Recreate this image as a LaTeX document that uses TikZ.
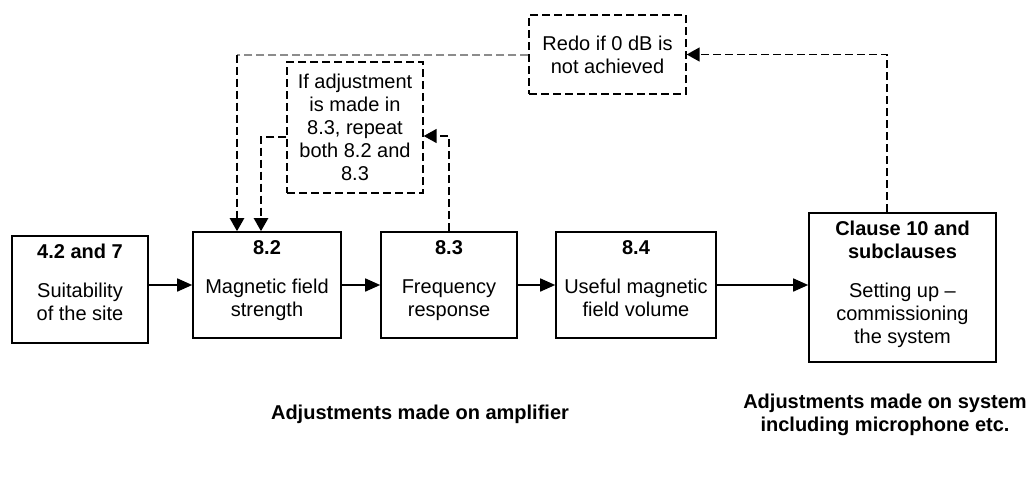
\documentclass[tikz,border=0pt]{standalone}
\usepackage{fontspec}
\setmainfont{Liberation Sans}
\usepackage{xcolor}
\usetikzlibrary{positioning,arrows.meta}
\definecolor{dashgrey}{HTML}{8C8C8C}

\begin{document}
\begin{tikzpicture}[x=1pt,y=-1pt,
    blk/.style={draw, line width=1.6pt, inner sep=0pt},
    txt/.style={inner sep=0pt, align=center, font=\fontsize{20}{23}\selectfont},
    dashbox/.style={draw, line width=1.4pt, dash pattern=on 8pt off 4pt, inner sep=0pt,
        align=center, font=\fontsize{20}{23}\selectfont},
    note/.style={inner sep=0pt, align=center, font=\fontsize{20}{23}\selectfont\bfseries},
    flow/.style={line width=1.6pt, -{Triangle[length=15pt,width=13pt]}},
    back/.style={line width=2.4pt, dash pattern=on 8pt off 4pt, -{Triangle[length=13pt,width=14pt]}}]
    \useasboundingbox (0,0) rectangle (1034,480);

    % Blocks
    \node[blk, minimum width=136, minimum height=107] (a) at (80,289.5) {};
    \node[blk, minimum width=148, minimum height=106] (b) at (267,285) {};
    \node[blk, minimum width=136, minimum height=106] (c) at (449,285) {};
    \node[blk, minimum width=160, minimum height=106] (d) at (636,285) {};
    \node[blk, minimum width=187, minimum height=149] (e) at (902.5,287.5) {};

    % Block texts
    \node[txt, below=9pt of a.north] (a-t) {\textbf{4.2 and 7}\\[16pt]Suitability\\of the site};
    \node[txt, below=9pt of b.north] (b-t) {\textbf{8.2}\\[16pt]Magnetic field\\strength};
    \node[txt, below=9pt of c.north] (c-t) {\textbf{8.3}\\[16pt]Frequency\\response};
    \node[txt, below=9pt of d.north] (d-t) {\textbf{8.4}\\[16pt]Useful magnetic\\field volume};
    \node[txt, below=9pt of e.north] (e-t) {\textbf{Clause 10 and}\\\textbf{subclauses}\\[16pt]Setting up –\\commissioning\\the system};

    % Notes in dashed boxes
    \node[dashbox, minimum width=157, minimum height=79] (redo) at (607.5,54.5) {Redo if 0 dB is\\not achieved};
    \node[dashbox, minimum width=136, minimum height=131] (ifb) at (355,127.5) {If adjustment\\is made in\\8.3, repeat\\both 8.2 and\\8.3};
    \coordinate (turn) at (237,54.5);

    % Main flow
    \draw[flow] (a.east |- b.west) -- (b.west);
    \draw[flow] (b.east) -- (c.west);
    \draw[flow] (c.east) -- (d.west);
    \draw[flow] (d.east) -- (d.east -| e.west);

    % Feedback
    \draw[back, line width=1.6pt] ([xshift=-15.5pt]e.north) |- (redo.east);
    \draw[dashgrey, line width=2pt, dash pattern=on 8pt off 4pt] (redo.west) -- (turn);
    \draw[back] (turn) -- (turn |- b.north);
    \draw[back] ([yshift=-9.5pt]ifb.west) -| ([xshift=-6pt]b.north);
    \draw[back, line width=1.6pt] (c.north) |- ([yshift=-8.5pt]ifb.east);

    % Labels
    \node[note, anchor=base] (amp) at (420,419) {Adjustments made on amplifier};
    \node[note, anchor=north] (sys) at (885,393.5) {Adjustments made on system\\including microphone etc.};
\end{tikzpicture}
\end{document}
